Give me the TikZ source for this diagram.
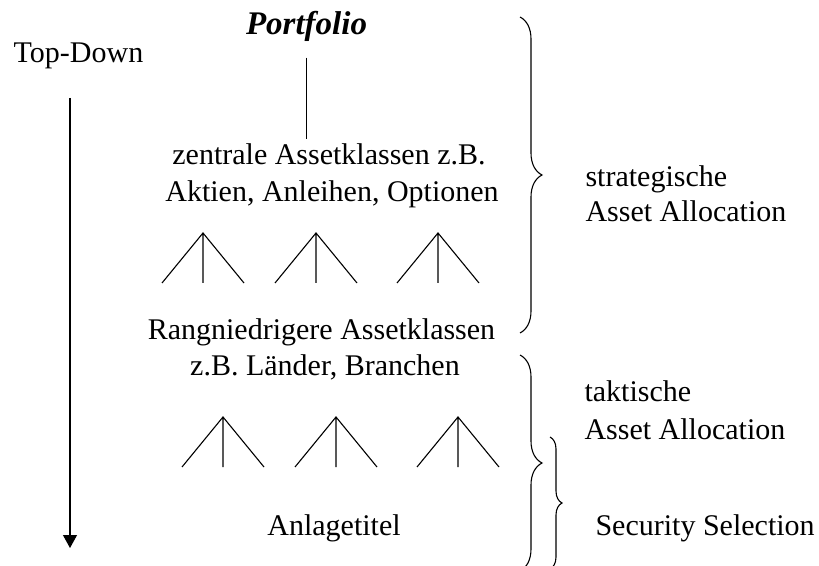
\documentclass[tikz,border=0pt]{standalone}
\usepackage{fontspec}
\setmainfont{Liberation Serif}
\usetikzlibrary{positioning,arrows.meta,decorations.pathreplacing}

\begin{document}
\begin{tikzpicture}[
		x=0.5pt,y=-0.5pt,
		font=\fontsize{15}{18.5}\selectfont,
		line width=0.55pt,
		lbl/.style={anchor=base,inner sep=0pt},
		side/.style={lbl,anchor=base west},
		brc/.style={decorate,decoration={brace,amplitude=#1}},
		fan/.pic={\draw (-41,50) -- (0,0) -- (41,50) (0,0) -- (0,50);}
		]
		\clip (0,0) rectangle (819,566);

		% hierarchy
		\node[lbl] (topdown) at (78.5,63) {Top-Down};
		\node[lbl,font=\fontsize{16.5}{20}\selectfont\bfseries\itshape] (portfolio) at (306.5,35) {Portfolio};
		\node[lbl] (zentrale) at (329,165) {zentrale Assetklassen z.B.};
		\node[lbl] (aktien) at (332,202) {Aktien, Anleihen, Optionen};
		\node[lbl] (rang) at (321.5,340) {Rangniedrigere Assetklassen};
		\node[lbl] (laender) at (325,376) {z.B. Länder, Branchen};
		\node[lbl] (titel) at (334,535) {Anlagetitel};

		% labels on the right
		\node[side] (strat) at (585,187) {strategische};
		\node[side] (strataa) at (585,222) {Asset Allocation};
		\node[side] (takt) at (584,402) {taktische};
		\node[side] (taktaa) at (584,440) {Asset Allocation};
		\node[side] (secsel) at (595,535) {Security Selection};

		\draw[shorten <=7.5pt,shorten >=2.25pt] (portfolio.south) -- (portfolio.south |- zentrale.north);

		\pic at (203,233) {fan};
		\pic at (316,233) {fan};
		\pic at (438,233) {fan};
		\pic at (223,417) {fan};
		\pic at (336,417) {fan};
		\pic at (458,417) {fan};

		% top-down arrow
		\coordinate (tdtop) at (70,98);
		\coordinate (tdend) at (70,548);
		\draw[-{Triangle[length=6.5pt,width=7pt]}] (tdtop) -- (tdend);

		% braces
		\coordinate (stratA) at (520,17);
		\coordinate (stratB) at (520,333);
		\coordinate (taktA) at (520,355);
		\coordinate (taktB) at (520,571);
		\coordinate (secA) at (550,437);
		\coordinate (secB) at (550,569);
		\draw[brc=11pt] (stratA) -- (stratB);
		\draw[brc=11pt] (taktA) -- (taktB);
		\draw[brc=6pt] (secA) -- (secB);
	\end{tikzpicture}
\end{document}
